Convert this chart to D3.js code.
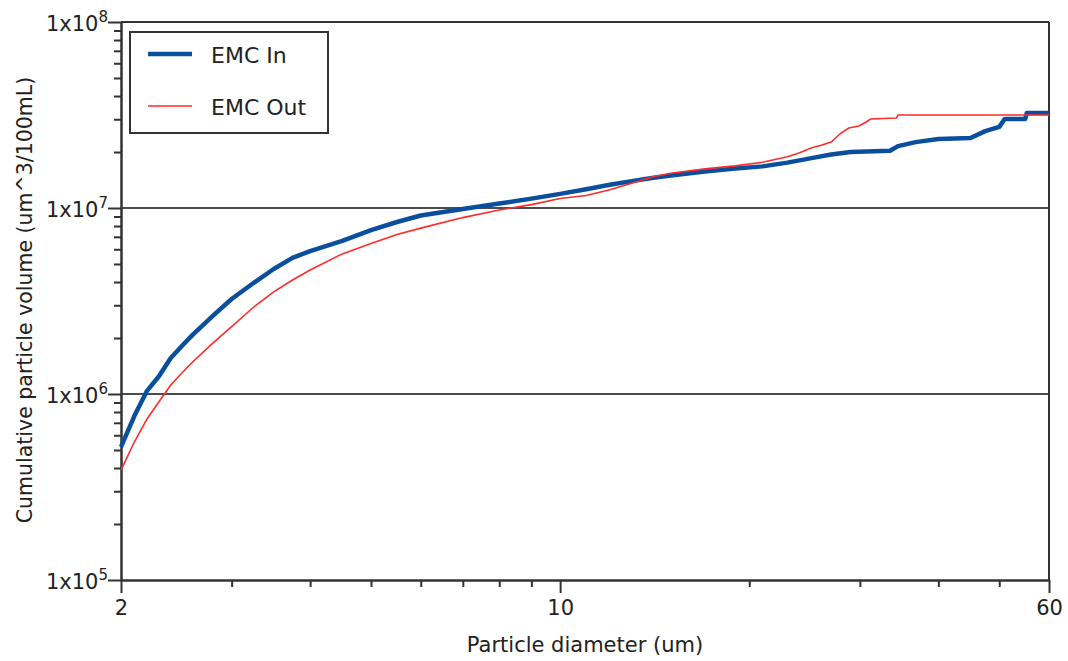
<!DOCTYPE html>
<html>
<head>
<meta charset="utf-8">
<script src="https://cdn.jsdelivr.net/npm/d3@7"></script>
<style>
    body { margin: 0; background: #ffffff; }
    text { font-family: "DejaVu Sans", sans-serif; fill: #222222; }
</style>
</head>
<body>
<div id="canvas"></div>
<script>
"use strict";

/**** CONFIGURATION ****/
let svgWidth = 1068;
let svgHeight = 661;

let leftEdge = 121;
let rightEdge = 1049;
let topEdge = 22;
let bottomEdge = 580;

/**** DATA ****/
let seriesNames = ["EMC In", "EMC Out"];

// particle diameter (um) -> cumulative particle volume (um^3/100mL)
let inDiameter = [2, 2.1, 2.2, 2.3, 2.4, 2.5, 2.6, 2.8, 3, 3.25, 3.5, 3.75, 4, 4.5, 5, 5.5, 6, 7, 8, 9,
    10, 11, 12, 13, 14, 15, 17, 19, 21, 23, 25, 27, 29, 33.5, 34.5, 36.8, 40, 45, 47.5, 50, 51, 55, 55.3, 60];
let inVolume = [5.19e5, 7.61e5, 1.04e6, 1.25e6, 1.56e6, 1.81e6, 2.08e6, 2.63e6, 3.24e6, 3.95e6, 4.70e6, 5.39e6,
    5.87e6, 6.65e6, 7.61e6, 8.41e6, 9.11e6, 9.88e6, 1.056e7, 1.123e7, 1.191e7, 1.262e7, 1.333e7, 1.395e7, 1.45e7,
    1.495e7, 1.571e7, 1.631e7, 1.674e7, 1.754e7, 1.848e7, 1.94e7, 2.0e7, 2.03e7, 2.15e7, 2.26e7, 2.35e7, 2.38e7,
    2.59e7, 2.73e7, 3.01e7, 3.01e7, 3.24e7, 3.24e7];

let outDiameter = [2, 2.1, 2.2, 2.3, 2.4, 2.5, 2.6, 2.8, 3, 3.25, 3.5, 3.75, 4, 4.5, 5, 5.5, 6, 7, 8, 9,
    10, 11, 12, 13, 14, 15, 17, 19, 21, 23, 24, 25.1, 26.1, 27, 28, 28.8, 29.9, 30.7, 31.2, 34.3, 34.5, 60];
let outVolume = [3.90e5, 5.52e5, 7.34e5, 9.11e5, 1.118e6, 1.297e6, 1.486e6, 1.876e6, 2.303e6, 2.927e6, 3.544e6,
    4.103e6, 4.642e6, 5.665e6, 6.435e6, 7.203e6, 7.796e6, 8.88e6, 9.75e6, 1.043e7, 1.125e7, 1.167e7, 1.254e7,
    1.359e7, 1.468e7, 1.538e7, 1.623e7, 1.684e7, 1.763e7, 1.885e7, 1.976e7, 2.102e7, 2.181e7, 2.263e7, 2.53e7,
    2.692e7, 2.76e7, 2.9e7, 3.01e7, 3.047e7, 3.162e7, 3.162e7];

let xTickValues = [2, 10, 60];
let yTickValues = [1e5, 1e6, 1e7, 1e8];
let gridValues = [1e6, 1e7];

/**** SVG ****/
let svg = d3.select("#canvas")
    .append("svg")
    .attr("width", svgWidth)
    .attr("height", svgHeight);

/**** SCALES ****/
let xScale = d3.scaleLog()
    .domain([2, 60])
    .range([leftEdge, rightEdge]);

let yScale = d3.scaleLog()
    .domain([1e5, 1e8])
    .range([bottomEdge, topEdge]);

let axisColor = "#333333";

/**** GRID LINES ****/
svg.selectAll("line.grid")
    .data(gridValues)
    .join("line")
    .attr("class", "grid")
    .attr("x1", leftEdge)
    .attr("x2", rightEdge)
    .attr("y1", d => yScale(d))
    .attr("y2", d => yScale(d))
    .attr("stroke", "#111111")
    .attr("stroke-width", 1.6);

/**** FRAME (top and right) ****/
svg.append("line")
    .attr("x1", leftEdge).attr("x2", rightEdge)
    .attr("y1", topEdge).attr("y2", topEdge)
    .attr("stroke", axisColor).attr("stroke-width", 2);

svg.append("line")
    .attr("x1", rightEdge).attr("x2", rightEdge)
    .attr("y1", topEdge).attr("y2", bottomEdge)
    .attr("stroke", axisColor).attr("stroke-width", 2);

/**** AXES ****/
let xMinor = xScale.ticks().filter(d => !xTickValues.includes(d));
let yMinor = yScale.ticks().filter(d => !yTickValues.includes(d));

function styleAxis(g) {
    g.select(".domain").attr("stroke", axisColor).attr("stroke-width", 2);
    g.selectAll(".tick line").attr("stroke", axisColor).attr("stroke-width", 2);
}

svg.append("g")
    .attr("transform", `translate(0,${bottomEdge})`)
    .call(d3.axisBottom(xScale).tickValues(xMinor).tickSize(7).tickSizeOuter(0).tickFormat(""))
    .call(styleAxis);

svg.append("g")
    .attr("transform", `translate(0,${bottomEdge})`)
    .call(d3.axisBottom(xScale).tickValues(xTickValues).tickSize(13).tickSizeOuter(0).tickPadding(7)
        .tickFormat(d3.format("d")))
    .call(styleAxis)
    .call(g => g.selectAll("text")
        .style("font-family", "'DejaVu Sans', sans-serif")
        .style("font-size", "21px")
        .attr("fill", "#222222"));

svg.append("g")
    .attr("transform", `translate(${leftEdge},0)`)
    .call(d3.axisLeft(yScale).tickValues(yMinor).tickSize(7).tickSizeOuter(0).tickFormat(""))
    .call(styleAxis);

svg.append("g")
    .attr("transform", `translate(${leftEdge},0)`)
    .call(d3.axisLeft(yScale).tickValues(yTickValues).tickSize(13).tickSizeOuter(0).tickFormat(""))
    .call(styleAxis);

/**** Y TICK LABELS (1x10^n) ****/
let yLabels = svg.selectAll("text.ylab")
    .data(yTickValues)
    .join("text")
    .attr("class", "ylab")
    .attr("x", 108)
    .attr("y", d => yScale(d) + 9)
    .attr("text-anchor", "end")
    .style("font-size", "21px");

yLabels.append("tspan").text("1x10");
yLabels.append("tspan")
    .attr("dy", -9)
    .style("font-size", "15px")
    .text(d => Math.round(Math.log10(d)));

/**** LINES ****/
let lineGen = d3.line()
    .x(d => xScale(d[0]))
    .y(d => yScale(d[1]));

let inPoints = inDiameter.map((d, i) => [d, inVolume[i]]);
let outPoints = outDiameter.map((d, i) => [d, outVolume[i]]);

svg.append("path")
    .datum(inPoints)
    .attr("d", lineGen)
    .attr("fill", "none")
    .attr("stroke", "#0a4f9e")
    .attr("stroke-width", 4.5)
    .attr("stroke-linejoin", "round");

svg.append("path")
    .datum(outPoints)
    .attr("d", lineGen)
    .attr("fill", "none")
    .attr("stroke", "#ff2a2a")
    .attr("stroke-width", 1.6);

/**** AXIS TITLES ****/
svg.append("text")
    .attr("x", 585)
    .attr("y", 652)
    .attr("text-anchor", "middle")
    .style("font-size", "21px")
    .text("Particle diameter (um)");

svg.append("text")
    .attr("transform", "rotate(-90)")
    .attr("x", -300)
    .attr("y", 32)
    .attr("text-anchor", "middle")
    .style("font-size", "20.5px")
    .text("Cumulative particle volume (um^3/100mL)");

/**** LEGEND ****/
svg.append("rect")
    .attr("x", 130)
    .attr("y", 32)
    .attr("width", 198)
    .attr("height", 101)
    .attr("fill", "#ffffff")
    .attr("stroke", axisColor)
    .attr("stroke-width", 2);

let legendColors = ["#0a4f9e", "#ff2a2a"];
let legendWidths = [4.5, 1.6];

for (let i = 0; i < seriesNames.length; i++) {
    svg.append("line")
        .attr("x1", 148)
        .attr("x2", 192)
        .attr("y1", 54 + i * 52)
        .attr("y2", 54 + i * 52)
        .attr("stroke", legendColors[i])
        .attr("stroke-width", legendWidths[i]);

    svg.append("text")
        .attr("x", 211)
        .attr("y", 63 + i * 52)
        .style("font-size", "22px")
        .text(seriesNames[i]);
}
</script>
</body>
</html>
